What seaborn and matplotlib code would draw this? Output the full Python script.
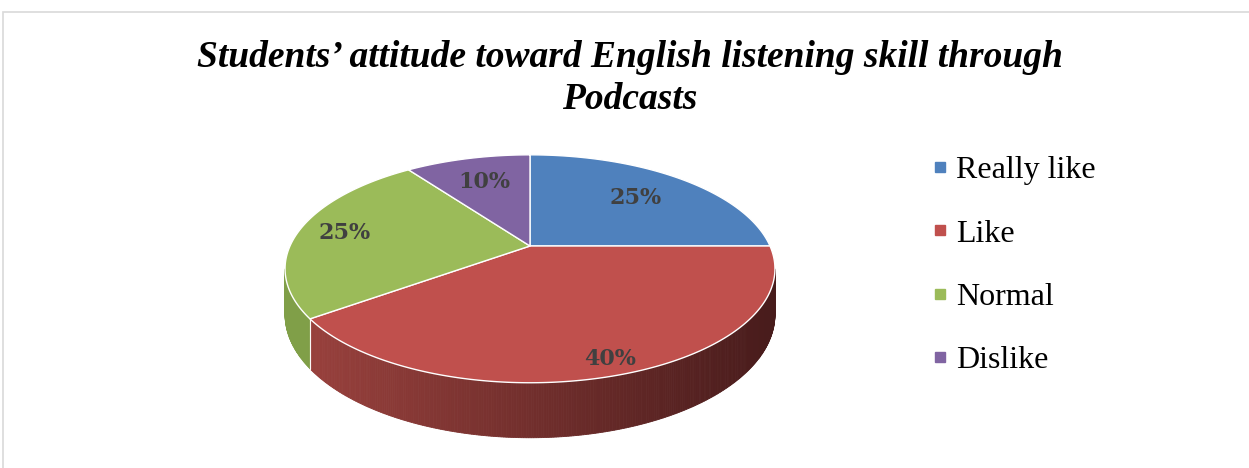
import numpy as np
import matplotlib
matplotlib.use("Agg")
import matplotlib.pyplot as plt
import seaborn as sns
from matplotlib.lines import Line2D
from matplotlib.patches import Rectangle
from matplotlib.colors import to_rgb

# ---------------- data ----------------
categories = ["Really like", "Like", "Normal", "Dislike"]
values = [25, 40, 25, 10]
pct_labels = ["25%", "40%", "25%", "10%"]
title = "Students\u2019 attitude toward English listening skill through\nPodcasts"

# ---------------- style / layout ----------------
colors = ["#4f81bd", "#c0504d", "#9bbb59", "#8064a2"]
side_left = ["#3d6595", "#9a413d", "#809f48", "#664f83"]
side_right = ["#253d5a", "#471b1b", "#6a853b", "#44355a"]
label_radius = [0.68, 0.9, 0.8, 0.7]

sns.set_style("white")
fig = plt.figure(figsize=(12.49, 4.68), dpi=100)
ax = fig.add_axes([0, 0, 1, 1])
ax.set_xlim(0, 1249)
ax.set_ylim(468, 0)
ax.axis("off")

# outer chart frame
fig.patches.append(Rectangle((3 / 1249, -0.1), 1.2, 1.1 - 12 / 468, transform=fig.transFigure,
                             fill=False, edgecolor="#d9d9d9", lw=1.2))

# perspective pie geometry
cx, cy = 530.0, 246.0
b, a, k, depth = 240.0, 109.4, 0.2, 44.0


def proj(t, r=1.0, d=0.0):
    u, v = r * np.cos(t), r * np.sin(t)
    s = 1 + k * v
    return cx + b * u / s, cy + (-a * v + d) / s


total = float(sum(values))
fracs = np.array(values) / total
starts = np.pi / 2 - 2 * np.pi * np.concatenate([[0], np.cumsum(fracs)[:-1]])
ends = starts - 2 * np.pi * fracs

# side walls (front, visible part)
t_left = np.pi + np.arcsin(k)
t_right = 2 * np.pi - np.arcsin(k)
for i in range(len(values)):
    lo, hi = ends[i] % (2 * np.pi), starts[i] % (2 * np.pi)
    if hi <= lo:
        hi += 2 * np.pi
    for off in (0, 2 * np.pi, -2 * np.pi):
        l0, h0 = max(lo + off, t_left), min(hi + off, t_right)
        if h0 <= l0:
            continue
        ts = np.linspace(l0, h0, max(3, int((h0 - l0) * 120)))
        cl, cr = np.array(to_rgb(side_left[i])), np.array(to_rgb(side_right[i]))
        for t0, t1 in zip(ts[:-1], ts[1:]):
            x0, y0 = proj(t0)
            x1, y1 = proj(t1)
            x2, y2 = proj(t1, d=depth)
            x3, y3 = proj(t0, d=depth)
            f = np.clip(((x0 + x1) / 2 - 300) / 480, 0, 1)
            c = cl * (1 - f) + cr * f
            ax.fill([x0, x1, x2, x3], [y0, y1, y2, y3], color=c, lw=0.6, ec=c)
        for tb in (l0, h0):
            if t_left + 1e-6 < tb < t_right - 1e-6:
                xa, ya = proj(tb)
                xb, yb = proj(tb, d=depth)
                ax.plot([xa, xb], [ya, yb], color="white", lw=0.8, alpha=0.8)

# top faces
for i in range(len(values)):
    ts = np.linspace(starts[i], ends[i], 200)
    xs, ys = proj(ts)
    px = np.concatenate([[cx], xs])
    py = np.concatenate([[cy], ys])
    ax.fill(px, py, color=colors[i], ec="white", lw=1.0, joinstyle="round")

# labels
for i in range(len(values)):
    tm = (starts[i] + ends[i]) / 2
    lx, ly = proj(tm, r=label_radius[i])
    ax.text(lx, ly, pct_labels[i], ha="center", va="center", fontsize=16,
            fontweight="bold", family="DejaVu Serif", color="#404040")

# title
fig.text(630 / 1249, 1 - 40 / 468, title, ha="center", va="top",
         family="Liberation Serif", fontweight="bold", fontstyle="italic",
         fontsize=27, linespacing=1.25, color="black")

# legend
handles = [Line2D([], [], marker="s", linestyle="", color=c, markersize=6.5) for c in colors]
leg = ax.legend(handles, categories, loc="upper left",
                bbox_to_anchor=(930 / 1249, 1 - 156 / 468), bbox_transform=fig.transFigure,
                frameon=False, prop={"family": "Liberation Serif", "size": 23},
                labelspacing=1.06, handlelength=0.6, handletextpad=0.22, borderpad=0,
                borderaxespad=0, labelcolor="black")

fig.savefig("out.png", dpi=100, facecolor="white")
